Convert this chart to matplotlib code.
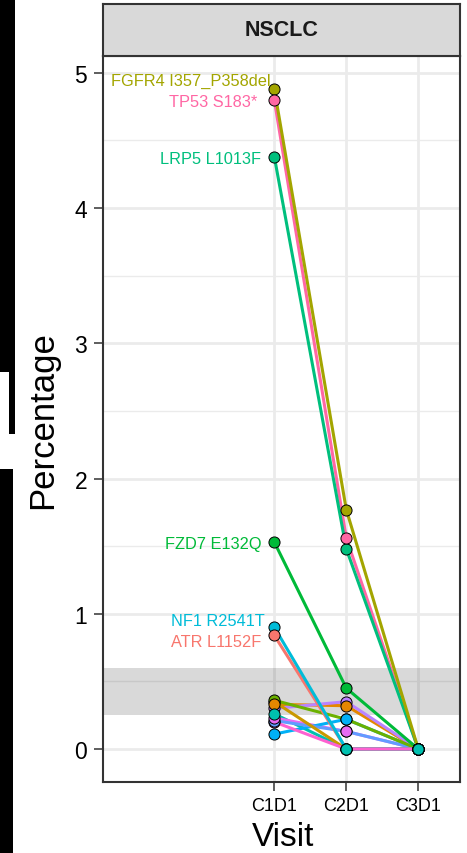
import matplotlib.pyplot as plt
from matplotlib.patches import Rectangle

plt.rcParams['font.family'] = ['Liberation Sans', 'DejaVu Sans']

## data
visits = ['C1D1', 'C2D1', 'C3D1']
mutations = ['', 'FGFR4 I357_P358del', 'LRP5 L1013F', 'TP53 S183*', 'FZD7 E132Q',
             'NF1 R2541T', 'ATR L1152F', '', '', '', '', '', '', '', '']
c1d1 = [0.20, 4.88, 4.38, 4.80, 1.53, 0.90, 0.84, 0.35, 0.36, 0.30, 0.33, 0.21, 0.11, 0.23, 0.26]
c2d1 = [0.00, 1.77, 1.48, 1.56, 0.45, 0.00, 0.00, 0.00, 0.22, 0.35, 0.32, 0.13, 0.22, 0.13, 0.00]
c3d1 = [0, 0, 0, 0, 0, 0, 0, 0, 0, 0, 0, 0, 0, 0, 0]
colors = ['#FD61D1', '#A3A500', '#00BF7D', '#FF67A4', '#00BA38', '#00BCD8', '#F8766D', '#C99800',
          '#6BB100', '#B983FF', '#E58700', '#619CFF', '#00B0F6', '#E76BF3', '#00C0AF']
band = (0.25, 0.6)

## label nudges (pixels)
nudge = {'FGFR4 I357_P358del': (-4, 10), 'LRP5 L1013F': (-13, 0), 'TP53 S183*': (-17, 0),
         'FZD7 E132Q': (-13, 0), 'NF1 R2541T': (-10, 8), 'ATR L1152F': (-13, -5)}

W, H = 467, 854
fig = plt.figure(figsize=(W/100, H/100), dpi=100)

# bits of the neighbouring figure along the left edge
for x0, y0, w, h in [(0, 0, 15, 373), (9, 373, 6, 62), (0, 470, 13, 384)]:
    fig.add_artist(Rectangle((x0/W, 1-(y0+h)/H), w/W, h/H, transform=fig.transFigure,
                             color='black', lw=0))

left, right, top, bottom = 103, 460, 57, 783
ax = fig.add_axes([left/W, 1-bottom/H, (right-left)/W, (bottom-top)/H])

x = [1, 2, 3]
n = len(c1d1)
# lines: first series ends up on top
for i in reversed(range(n)):
    y = [c1d1[i], c2d1[i], c3d1[i]]
    ax.plot(x, y, color=colors[i], lw=2.2, zorder=3, solid_capstyle='round')
# points: last series ends up on top
for i in range(n):
    y = [c1d1[i], c2d1[i], c3d1[i]]
    ax.plot(x, y, ls='none', marker='o', ms=8, mfc=colors[i], mec='black', mew=0.7, zorder=4)

for i, name in enumerate(mutations):
    if name == '':
        continue
    dx, dy = nudge[name]
    ax.annotate(name, xy=(1, c1d1[i]), xytext=(dx*0.72, dy*0.72 - 1), textcoords='offset points',
                ha='right', va='center', fontsize=11.8, color=colors[i], zorder=5)

ax.axhspan(band[0], band[1], color='black', alpha=0.15, lw=0, zorder=2)

ax.set_xlim(-1.38, 3.58)
ax.set_ylim(-0.244, 5.124)
ax.set_xticks(x)
ax.set_xticklabels(visits, fontsize=13)
ax.set_yticks([0, 1, 2, 3, 4, 5])
ax.set_yticks([0.5, 1.5, 2.5, 3.5, 4.5], minor=True)
ax.tick_params(axis='y', labelsize=16.5, length=6.5, width=1.1, color='#333333', pad=5)
ax.tick_params(axis='x', length=6.5, width=1.1, color='#333333', pad=4)
ax.tick_params(axis='y', which='minor', length=0)
ax.grid(True, which='major', color='#EBEBEB', lw=2.0, zorder=0)
ax.grid(True, which='minor', axis='y', color='#EBEBEB', lw=1.0, zorder=0)
ax.set_axisbelow(True)
for s in ax.spines.values():
    s.set_color('#333333')
    s.set_linewidth(1.5)

# facet strip
sax = fig.add_axes([left/W, 1-top/H, (right-left)/W, (top-5)/H])
sax.set_facecolor('#D9D9D9')
sax.set_xticks([])
sax.set_yticks([])
for s in sax.spines.values():
    s.set_color('#333333')
    s.set_linewidth(1.5)
sax.text(0.5, 0.5, 'NSCLC', ha='center', va='center', fontsize=15.5, fontweight='bold',
         color='#1A1A1A', transform=sax.transAxes)

fig.text(43/W, 1-420/H, 'Percentage', rotation=90, ha='center', va='center', fontsize=25)
fig.text(283/W, 1-846/H, 'Visit', ha='center', va='baseline', fontsize=24)

plt.savefig('out.png', dpi=100)
